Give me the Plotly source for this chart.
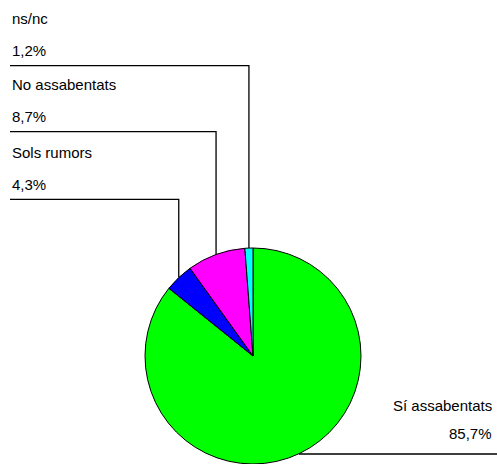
import math
import plotly.graph_objects as go

# ---- data ----
labels = ["Sí assabentats", "Sols rumors", "No assabentats", "ns/nc"]
values = [85.7, 4.3, 8.7, 1.2]
colors = ["#00FF00", "#0000FF", "#FF00FF", "#00FFFF"]
pct_text = ["85,7%", "4,3%", "8,7%", "1,2%"]

# ---- layout geometry (pixels) ----
W, H = 497, 464
cx, cy, r = 253, 356, 108
line_y = [454, 199.3, 131.7, 65.7]
side = ["right", "left", "left", "left"]
LEFT_X = 10
RIGHT_X = 494
FONT = dict(family="Liberation Sans, Arial, sans-serif", size=15, color="#000000")

fig = go.Figure()
fig.add_trace(go.Pie(
    labels=labels, values=values, sort=False, direction="clockwise", rotation=0,
    marker=dict(colors=colors, line=dict(color="#000000", width=1)),
    textinfo="none", hoverinfo="label+percent", showlegend=False,
    domain=dict(x=[(cx - r) / W, (cx + r) / W], y=[max(0, (H - cy - r) / H), min(1, (H - cy + r) / H)]),
))

total = sum(values)
shapes = []
annotations = []
cum = 0.0
for i, v in enumerate(values):
    mid = (cum + v / 2) / total
    cum += v
    th = 2 * math.pi * mid
    px = cx + r * math.sin(th)
    py = cy - r * math.cos(th)
    ly = line_y[i]
    if side[i] == "left":
        path = f"M {LEFT_X},{ly} L {px:.2f},{ly} L {px:.2f},{py:.2f}"
        annotations.append(dict(x=LEFT_X, y=ly - 42 - 5, text=labels[i], xanchor="left", yanchor="middle",
                                showarrow=False, xref="x", yref="y", font=FONT))
        annotations.append(dict(x=LEFT_X, y=ly - 10 - 5, text=pct_text[i], xanchor="left", yanchor="middle",
                                showarrow=False, xref="x", yref="y", font=FONT))
    else:
        path = f"M {px:.2f},{py:.2f} L {px:.2f},{ly} L {W},{ly}"
        annotations.append(dict(x=RIGHT_X, y=ly - 44 - 5, text=labels[i], xanchor="right", yanchor="middle",
                                showarrow=False, xref="x", yref="y", font=FONT))
        annotations.append(dict(x=RIGHT_X, y=ly - 16 - 5, text=pct_text[i], xanchor="right", yanchor="middle",
                                showarrow=False, xref="x", yref="y", font=FONT))
    shapes.append(dict(type="path", path=path, xref="x", yref="y",
                       line=dict(color="#000000", width=1.3), layer="above"))

fig.update_layout(
    width=W, height=H, margin=dict(l=0, r=0, t=0, b=0),
    paper_bgcolor="#FFFFFF", plot_bgcolor="rgba(0,0,0,0)",
    xaxis=dict(range=[0, W], visible=False, fixedrange=True, domain=[0, 1]),
    yaxis=dict(range=[H, 0], visible=False, fixedrange=True, domain=[0, 1]),
    shapes=shapes, annotations=annotations, showlegend=False,
)

fig.write_html(
    "out.html",
    config={"displayModeBar": False, "staticPlot": True},
    post_script="document.body.style.margin='0';document.body.style.overflow='hidden';",
)
